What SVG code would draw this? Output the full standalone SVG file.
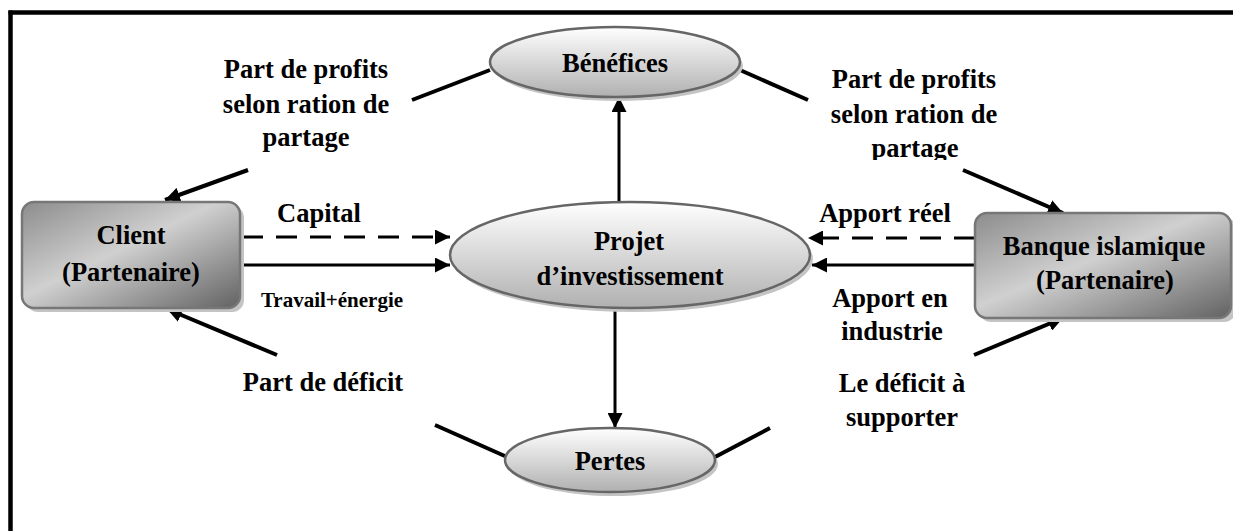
<svg xmlns="http://www.w3.org/2000/svg" width="1233" height="531" viewBox="0 0 1233 531">
<style>
.t{font-family:"Liberation Serif","Times New Roman",serif;font-weight:bold;font-size:26.5px;fill:#000;text-anchor:middle}
.s{font-size:21px}
.ln{stroke:#000;stroke-width:4;fill:none}
.ar{stroke:#000;stroke-width:3;fill:none}
.da{stroke-dasharray:21 13}
.ell{fill:url(#gE);stroke:#666;stroke-width:2.5}
.box{fill:url(#gB);stroke:#777;stroke-width:2.5}
.sh{fill:#c4c4c4}
</style>
<defs>
<linearGradient id="gE" x1="0" y1="0" x2="0" y2="1">
<stop offset="0" stop-color="#ffffff"/>
<stop offset="1" stop-color="#b0b0b0"/>
</linearGradient>
<linearGradient id="gB" x1="0" y1="0" x2="1" y2="1">
<stop offset="0" stop-color="#8c8c8c"/>
<stop offset="0.45" stop-color="#d0d0d0"/>
<stop offset="1" stop-color="#626262"/>
</linearGradient>
<marker id="ah" viewBox="0 0 10 10" refX="10" refY="5" markerWidth="15" markerHeight="15" markerUnits="userSpaceOnUse" orient="auto">
<path d="M0,0 L10,5 L0,10 Z" fill="#000"/>
</marker>
<clipPath id="cR"><rect x="800" y="130" width="200" height="30"/></clipPath>
</defs>

<g id="frame">
<line x1="8.5" y1="12.5" x2="1233" y2="12.5" stroke="#000" stroke-width="4.5"/>
<line x1="10.5" y1="10.5" x2="10.5" y2="531" stroke="#000" stroke-width="4.5"/>
</g>

<g id="connectors">
<line class="ln" x1="412" y1="100" x2="490" y2="70"/>
<line class="ln" x1="248" y1="170" x2="165" y2="200" marker-end="url(#ah)"/>
<line class="ln" x1="740" y1="70" x2="808" y2="100"/>
<line class="ln" x1="963" y1="170" x2="1063" y2="213" marker-end="url(#ah)"/>
<line class="ln" x1="277" y1="355" x2="167" y2="309" marker-end="url(#ah)"/>
<line class="ln" x1="435" y1="425" x2="507" y2="457"/>
<line class="ln" x1="715" y1="457" x2="770" y2="428"/>
<line class="ln" x1="974" y1="355" x2="1063" y2="318" marker-end="url(#ah)"/>
<line class="ar" x1="619" y1="202" x2="619" y2="97" marker-end="url(#ah)"/>
<line class="ar" x1="615" y1="308" x2="615" y2="428" marker-end="url(#ah)"/>
<line class="ar da" x1="242" y1="237" x2="450" y2="237" marker-end="url(#ah)"/>
<line class="ar" x1="242" y1="265" x2="450" y2="265" marker-end="url(#ah)"/>
<line class="ar da" x1="975" y1="238" x2="808" y2="238" marker-end="url(#ah)"/>
<line class="ar" x1="975" y1="265" x2="812" y2="265" marker-end="url(#ah)"/>
</g>

<g id="benefices">
<ellipse class="sh" cx="618" cy="66" rx="125" ry="35"/>
<ellipse class="ell" cx="615" cy="62" rx="125" ry="35"/>
<text class="t" x="615" y="72">Bénéfices</text>
</g>

<g id="projet">
<ellipse class="sh" cx="633" cy="259" rx="180" ry="53"/>
<ellipse class="ell" cx="630" cy="255" rx="180" ry="53"/>
<text class="t" x="629" y="250">Projet</text>
<text class="t" x="630" y="285">d’investissement</text>
</g>

<g id="pertes">
<ellipse class="sh" cx="613" cy="464" rx="105" ry="32"/>
<ellipse class="ell" cx="610" cy="460" rx="105" ry="32"/>
<text class="t" x="610" y="470">Pertes</text>
</g>

<g id="client">
<rect class="sh" x="26" y="206" width="218" height="106" rx="12"/>
<rect class="box" x="22" y="202" width="218" height="106" rx="12"/>
<text class="t" x="131" y="244">Client</text>
<text class="t" x="131" y="281">(Partenaire)</text>
</g>

<g id="banque">
<rect class="sh" x="979" y="217" width="257" height="105" rx="12"/>
<rect class="box" x="975" y="213" width="256" height="105" rx="12"/>
<text class="t" x="1104" y="255">Banque islamique</text>
<text class="t" x="1105" y="289">(Partenaire)</text>
</g>

<g id="labels">
<text class="t" x="306" y="78">Part de profits</text>
<text class="t" x="306" y="113">selon ration de</text>
<text class="t" x="306" y="146">partage</text>
<text class="t" x="914" y="88">Part de profits</text>
<text class="t" x="914" y="123">selon ration de</text>
<text class="t" x="915" y="157" clip-path="url(#cR)">partage</text>
<text class="t" x="319" y="222">Capital</text>
<text class="t s" x="332" y="307">Travail+énergie</text>
<text class="t" x="885" y="222">Apport réel</text>
<text class="t" x="890" y="307">Apport en</text>
<text class="t" x="892" y="340">industrie</text>
<text class="t" x="323" y="391">Part de déficit</text>
<text class="t" x="902" y="392">Le déficit à</text>
<text class="t" x="902" y="426">supporter</text>
</g>
</svg>
